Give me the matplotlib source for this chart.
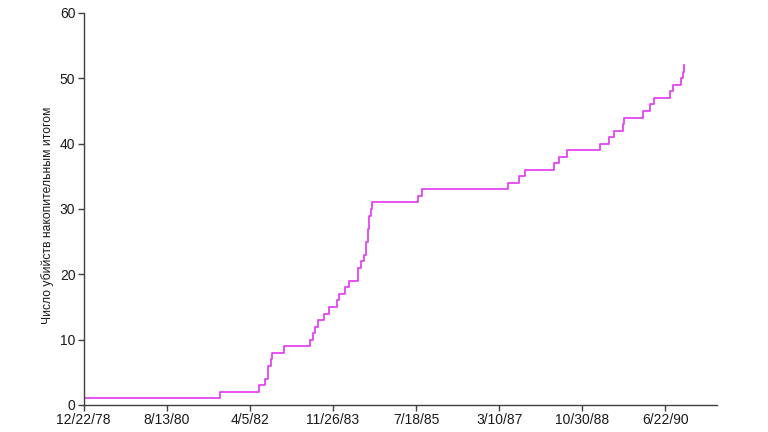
import datetime as dt
import matplotlib
matplotlib.use("Agg")
import matplotlib.pyplot as plt
import matplotlib.dates as mdates

plt.rcParams['font.family'] = ['Liberation Sans', 'DejaVu Sans']

# даты шагов (по картинке)
dates = [
    "1978-12-22",
    "1981-09-03",
    "1982-06-12", "1982-07-25", "1982-08-13", "1982-08-16", "1982-09-08",
    "1982-09-15", "1982-12-11",
    "1983-06-15", "1983-07-08", "1983-07-20", "1983-08-09", "1983-09-19",
    "1983-10-27", "1983-12-27",
    "1984-01-09", "1984-02-21", "1984-03-24", "1984-05-25", "1984-05-25",
    "1984-06-19", "1984-07-10", "1984-07-19", "1984-07-24", "1984-08-02",
    "1984-08-07", "1984-08-10", "1984-08-13", "1984-08-28", "1984-09-06",
    "1985-07-31", "1985-08-27",
    "1987-05-16", "1987-07-29", "1987-09-15",
    "1988-04-06", "1988-05-14", "1988-07-14",
    "1989-03-08", "1989-05-11", "1989-06-20", "1989-08-19", "1989-08-28",
    "1990-01-14", "1990-03-07", "1990-04-04", "1990-07-28", "1990-08-14",
    "1990-10-17", "1990-10-30", "1990-11-06",
]
counts = [
    1, 2, 3, 4, 5, 6, 7, 8, 9, 10,
    11, 12, 13, 14, 15, 16, 17, 18, 19, 20,
    21, 22, 23, 24, 25, 26, 27, 28, 29, 30,
    31, 32, 33, 34, 35, 36, 37, 38, 39, 40,
    41, 42, 43, 44, 45, 46, 47, 48, 49, 50,
    51, 52,
]
x_tick_labels = ["12/22/78", "8/13/80", "4/5/82", "11/26/83",
                 "7/18/85", "3/10/87", "10/30/88", "6/22/90"]
y_ticks = [0, 10, 20, 30, 40, 50, 60]
ylabel = "Число убийств накопительным итогом"

# %%
x = [dt.datetime.strptime(d, "%Y-%m-%d") for d in dates]
x_ticks = [dt.datetime.strptime(t, "%m/%d/%y") for t in x_tick_labels]

fig = plt.figure(figsize=(7.68, 4.32), dpi=100)
ax = fig.add_axes([0.109, 0.0625, 0.825, 0.9075])

ax.step(x, counts, where="post", color="#e444f2", linewidth=1.3)

ax.set_xlim(dt.datetime(1978, 12, 22), dt.datetime(1991, 7, 3))
ax.set_ylim(0, 60)
ax.set_xticks(x_ticks)
ax.set_xticklabels(x_tick_labels)
ax.set_yticks(y_ticks)

for s in ["top", "right"]:
    ax.spines[s].set_visible(False)
for s in ["left", "bottom"]:
    ax.spines[s].set_color("#404040")
    ax.spines[s].set_linewidth(1.0)
ax.tick_params(direction="out", length=4, width=1.0, color="#404040",
               labelsize=10, labelcolor="#1a1a1a", pad=2)
ax.set_ylabel(ylabel, fontsize=8.7, color="#1a1a1a")
ax.yaxis.set_label_coords(-0.047, 0.485)

fig.savefig("out.png", dpi=100)
